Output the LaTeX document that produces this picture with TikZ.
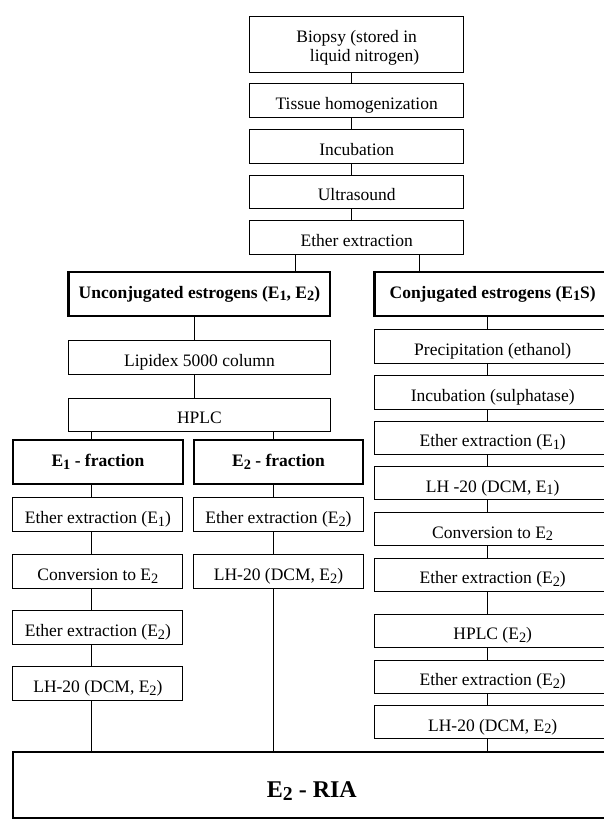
\documentclass[tikz,border=0pt]{standalone}
\usepackage{fontspec}
\setmainfont{Liberation Serif}
\usetikzlibrary{positioning}
\newcommand{\Eind}[1]{E\raisebox{-0.35ex}{\scalebox{0.82}{#1}}}

\begin{document}
\begin{tikzpicture}[
    % box styles
    box/.style={
        draw, line width=0.9pt, minimum height=33.5pt, inner sep=2pt,
        font=\fontsize{17.5pt}{19pt}\selectfont, text height=19pt, text depth=1pt
    },
    topbox/.style={box, minimum width=214pt},
    leftbox/.style={box, minimum width=261.5pt},
    fracbox/.style={box, minimum width=170pt},
    rightbox/.style={box, minimum width=236.6pt},
    head/.style={
        draw, line width=2.4pt, minimum height=44pt, inner sep=2pt,
        font=\fontsize{17.5pt}{19pt}\selectfont\bfseries
    },
    link/.style={draw, line width=0.9pt}
]

    \path[use as bounding box, clip] (0pt,0pt) rectangle (604pt,-819pt);

    % --- 1. SAMPLE PREPARATION (top) ---
    \node[topbox, minimum height=56pt, text height=12pt, text depth=14.6pt] (biopsy) at (356.7pt,-44pt) {\begin{tabular}[t]{@{}c@{}}Biopsy (stored in\\ \hspace*{0.9em}liquid nitrogen)\end{tabular}};
    \node[topbox, below=11pt of biopsy] (homog) {Tissue homogenization};
    \node[topbox, below=11.5pt of homog] (incub) {Incubation};
    \node[topbox, below=11pt of incub] (ultra) {Ultrasound};
    \node[topbox, below=11pt of ultra] (ether) {Ether extraction};

    % --- 2. UNCONJUGATED BRANCH ---
    \node[head, minimum width=261.5pt] (unconj) at (199.4pt,-294pt) {Unconjugated estrogens (\Eind{1}, \Eind{2})};
    \node[leftbox, below=23pt of unconj] (lipidex) {Lipidex 5000 column};
    \node[leftbox, below=23pt of lipidex] (hplc) {HPLC};

    % E1 fraction
    \node[head, minimum width=170.3pt] (e1frac) at (97.9pt,-462pt) {\Eind{1} - fraction};
    \node[fracbox, below=12pt of e1frac] (e1eth) {Ether extraction (\Eind{1})};
    \node[fracbox, below=22.5pt of e1eth] (e1conv) {Conversion to \Eind{2}};
    \node[fracbox, below=21.5pt of e1conv] (e1eth2) {Ether extraction (\Eind{2})};
    \node[fracbox, below=22pt of e1eth2] (e1lh) {LH-20 (DCM, \Eind{2})};

    % E2 fraction
    \node[head, minimum width=169.4pt] (e2frac) at (278.5pt,-462pt) {\Eind{2} - fraction};
    \node[fracbox, below=12pt of e2frac] (e2eth) {Ether extraction (\Eind{2})};
    \node[fracbox, below=22.5pt of e2eth] (e2lh) {LH-20 (DCM, \Eind{2})};

    % --- 3. CONJUGATED BRANCH (right, runs off the page) ---
    \node[head, minimum width=236.6pt] (conj) at (492.7pt,-294pt) {Conjugated estrogens (\Eind{1}S)};
    \node[rightbox, below=12pt of conj] (precip) {Precipitation (ethanol)};
    \node[rightbox, below=11.5pt of precip] (sulph) {Incubation (sulphatase)};
    \node[rightbox, below=11pt of sulph] (coeth1) {Ether extraction (\Eind{1})};
    \node[rightbox, below=11pt of coeth1] (colh1) {LH -20 (DCM, \Eind{1})};
    \node[rightbox, below=11.5pt of colh1] (coconv) {Conversion to \Eind{2}};
    \node[rightbox, below=11.5pt of coconv] (coeth2) {Ether extraction (\Eind{2})};
    \node[rightbox, below=21.5pt of coeth2] (cohplc) {HPLC (\Eind{2})};
    \node[rightbox, below=11.5pt of cohplc] (coeth3) {Ether extraction (\Eind{2})};
    \node[rightbox, below=11pt of coeth3] (colh2) {LH-20 (DCM, \Eind{2})};

    % --- 4. ASSAY ---
    \node[head, minimum width=598.3pt, minimum height=66pt, font=\fontsize{24pt}{26pt}\selectfont\bfseries, text height=26pt, text depth=2pt] (ria) at (311.9pt,-785pt) {\Eind{2} - RIA};

    % --- connectors ---
    \coordinate (axTop) at ([xshift=-5.4pt]biopsy.south);
    \coordinate (axUn) at ([xshift=-5.4pt]unconj.south);
    \coordinate (axE1) at ([xshift=-6pt]e1frac.north);
    \coordinate (axE2) at ([xshift=-5pt]e2frac.north);
    \coordinate (axCo) at ([xshift=-5pt]conj.south);
    \coordinate (brUn) at (295.8pt,0pt);
    \coordinate (brCo) at (419.1pt,0pt);

    \foreach \a/\b in {biopsy/homog, homog/incub, incub/ultra, ultra/ether}
        \draw[link] (\a.south -| axTop) -- (\b.north -| axTop);

    \draw[link] (ether.south -| brUn) -- (unconj.north -| brUn);
    \draw[link] (ether.south -| brCo) -- (conj.north -| brCo);

    \foreach \a/\b in {unconj/lipidex, lipidex/hplc}
        \draw[link] (\a.south -| axUn) -- (\b.north -| axUn);
    \draw[link] (hplc.south -| axE1) -- (e1frac.north -| axE1);
    \draw[link] (hplc.south -| axE2) -- (e2frac.north -| axE2);

    \foreach \a/\b in {e1frac/e1eth, e1eth/e1conv, e1conv/e1eth2, e1eth2/e1lh, e1lh/ria}
        \draw[link] (\a.south -| axE1) -- (\b.north -| axE1);
    \foreach \a/\b in {e2frac/e2eth, e2eth/e2lh, e2lh/ria}
        \draw[link] (\a.south -| axE2) -- (\b.north -| axE2);
    \foreach \a/\b in {conj/precip, precip/sulph, sulph/coeth1, coeth1/colh1, colh1/coconv, coconv/coeth2, coeth2/cohplc, cohplc/coeth3, coeth3/colh2, colh2/ria}
        \draw[link] (\a.south -| axCo) -- (\b.north -| axCo);

\end{tikzpicture}
\end{document}
